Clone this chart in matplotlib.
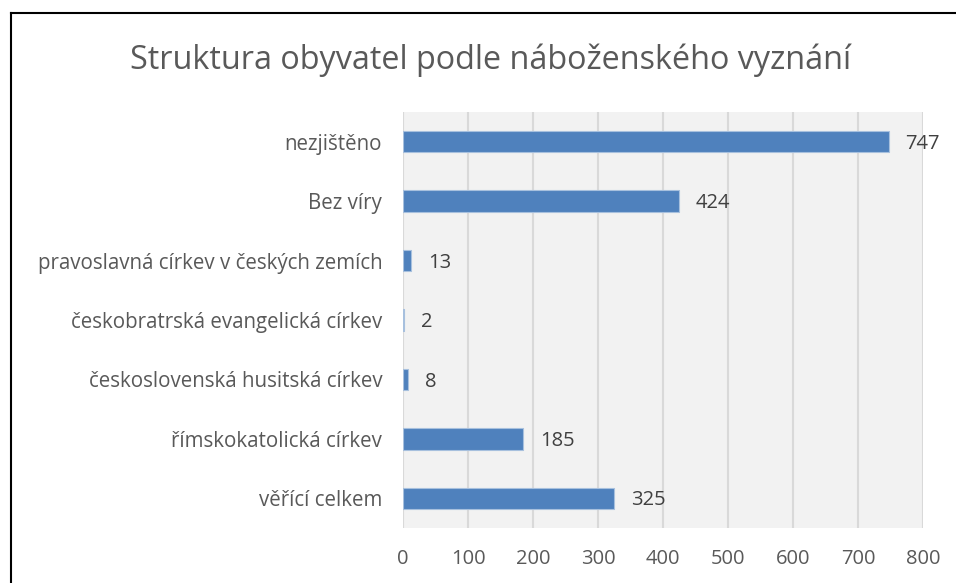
import numpy as np
import matplotlib.pyplot as plt

# data (top to bottom as in the chart)
kategorie = ['nezjištěno', 'Bez víry', 'pravoslavná církev v českých zemích',
             'českobratrská evangelická církev', 'československá husitská církev',
             'římskokatolická církev', 'věřící celkem']
pocet = [747, 424, 13, 2, 8, 185, 325]
xticks = [0, 100, 200, 300, 400, 500, 600, 700, 800]

plt.rcParams['font.family'] = ['Open Sans', 'DejaVu Sans']
seda = '#595959'

fig = plt.figure(figsize=(9.56, 5.83), dpi=100)
fig.patch.set_facecolor('white')

# frame of the chart object (only left and top are visible)
fig.add_artist(plt.Line2D([11/956, 11/956], [0, 1 - 13/583], color='black', lw=1.5))
fig.add_artist(plt.Line2D([11/956, 1], [1 - 13/583, 1 - 13/583], color='black', lw=1.5))

ax = fig.add_axes([403/956, 1 - 528/583, 520/956, 416/583])
ax.set_facecolor('#F2F2F2')

y = np.arange(len(kategorie))[::-1]
ax.barh(y, pocet, height=0.36, color='#4F81BD', edgecolor='#A7C0DE', linewidth=0.8, zorder=3)
for yi, v in zip(y, pocet):
    ax.annotate(str(v), (v, yi), xytext=(12, -1.5), textcoords='offset points',
                va='center', ha='left', fontsize=14.5, color='#404040')

ax.set_xlim(0, 800)
ax.set_ylim(-0.5, len(kategorie) - 0.5)
ax.set_xticks(xticks)
ax.set_xticklabels([str(t) for t in xticks])
ax.set_yticks(y)
ax.set_yticklabels(kategorie)
ax.tick_params(axis='both', length=0, labelcolor=seda)
ax.tick_params(axis='x', pad=15, labelsize=14.5)
ax.tick_params(axis='y', pad=15, labelsize=14.8)
ax.grid(axis='x', color='#D9D9D9', lw=1.5, zorder=0)
for s in ax.spines.values():
    s.set_visible(False)

fig.text(491/956, 1 - 60/583, 'Struktura obyvatel podle náboženského vyznání',
         ha='center', va='center', fontsize=23.3, color=seda)

fig.savefig('out.png', dpi=100)
